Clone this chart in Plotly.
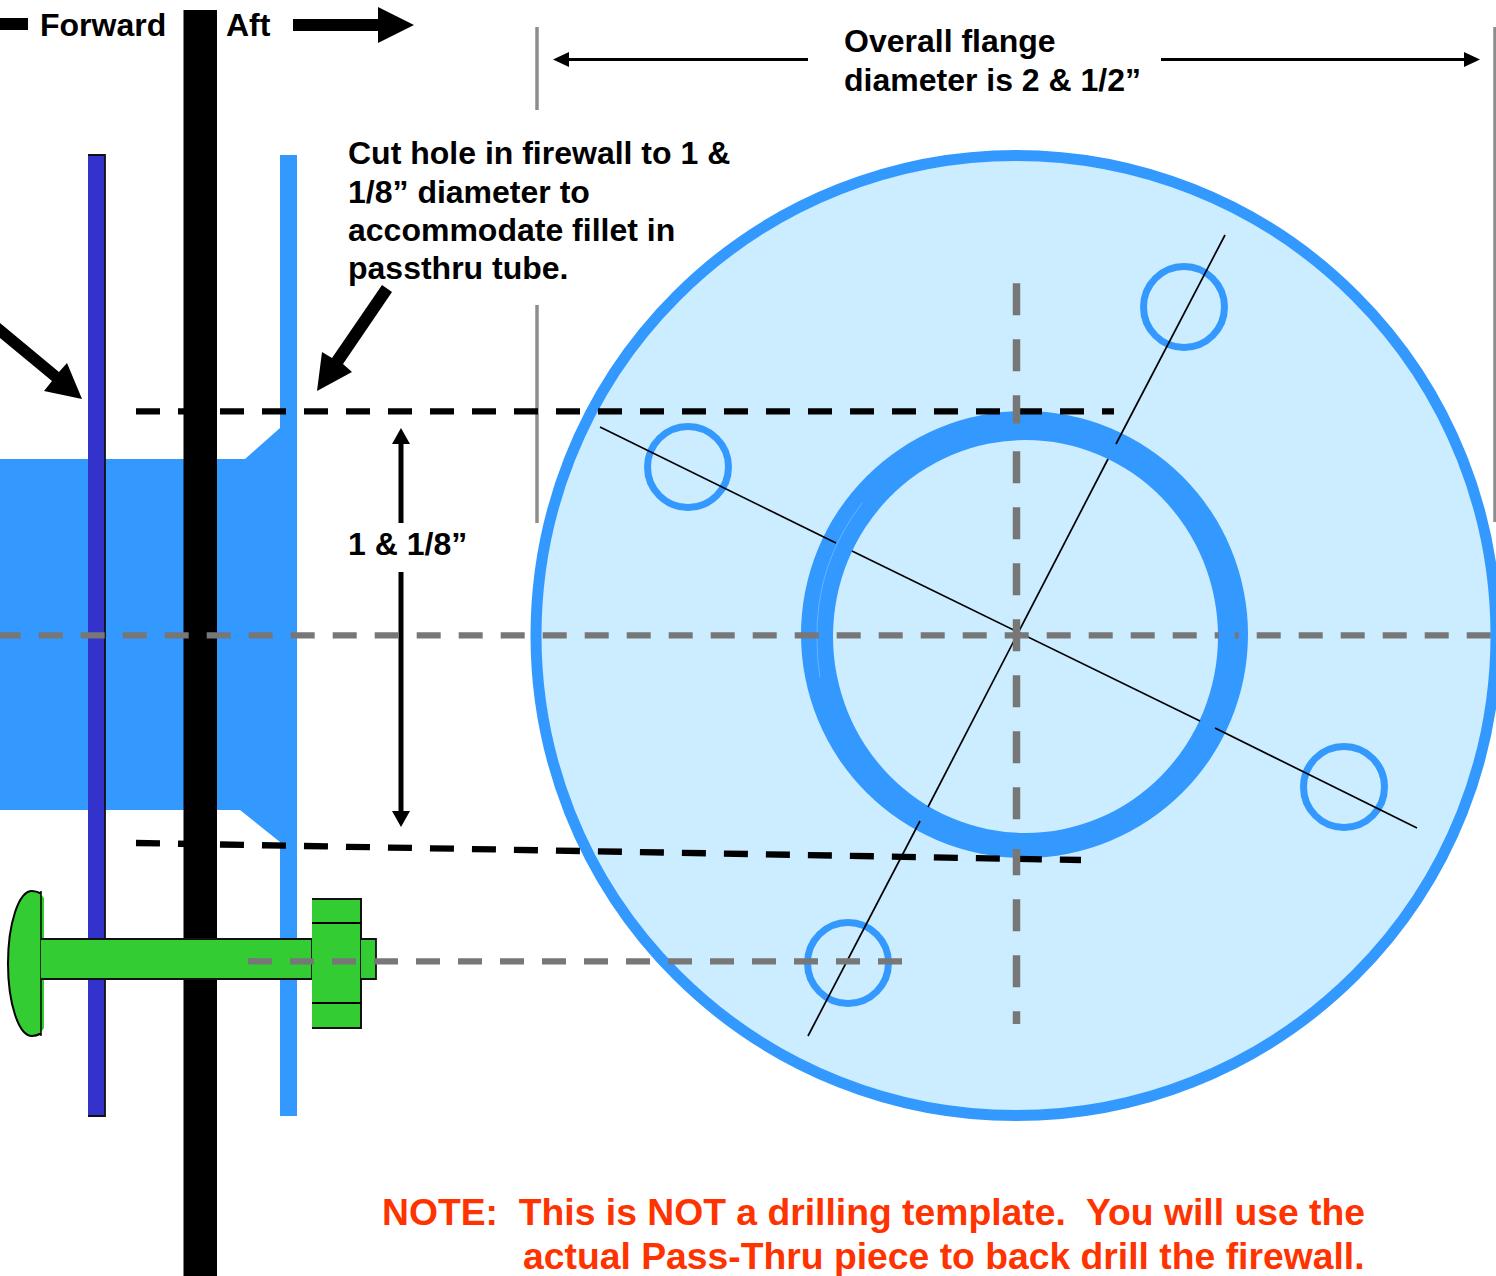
import plotly.graph_objects as go

# ---- palette ----
FLANGE_BLUE = "#3399FF"
PALE_BLUE = "#CCECFF"
DARK_BLUE = "#3333CC"
GREEN = "#33CC33"
GRAY = "#777777"
EDGE_GRAY = "#8C8C8C"
ORANGE = "#FF3300"

# ---- circles: bounding boxes (x0, x1, y0, y1) and centres ----
flange_box = (536, 1496, 155.5, 1115.5)
ring_outer_box = (801, 1248, 411, 858)
ring_inner_box = (833, 1218, 440, 833)
bolt_holes = [(688, 467), (1184, 307), (1344, 787), (848, 963)]
bolt_hole_radius = 40.5

# ---- filled polygons ----
tube_x = [0, 245, 280, 280, 297, 297, 280, 280, 240, 0]
tube_y = [459, 459, 428, 155, 155, 1116, 1116, 842, 810, 810]
plate_x = [88, 105, 105, 88]
plate_y = [155, 155, 1116, 1116]
firewall_x = [183.5, 217, 217, 183.5]
firewall_y = [10, 10, 1276, 1276]
shaft_x = [41, 312, 312, 41]
shaft_y = [939, 939, 979, 979]
tip_x = [361, 376, 376, 361]
tip_y = [939, 939, 979, 979]
nut_x = [312, 361, 361, 312]
nut_y = [899, 899, 1028, 1028]
nut_line_y = [923, 1003]

forward_bar_x = [0, 28, 28, 0]
forward_bar_y = [18, 18, 30, 30]
aft_arrow_x = [293, 378, 378, 414, 378, 378, 293]
aft_arrow_y = [19, 19, 7, 25, 43, 31, 31]
left_arrow_x = [0, 59, 67, 82, 44, 52, 0]
left_arrow_y = [323, 372, 363, 399, 391, 381, 338]
right_arrow_x = [382, 392, 343, 352, 317, 322, 332]
right_arrow_y = [285, 292, 364, 372, 391, 352, 358]
up_arrow_x = [401, 410, 403.5, 403.5, 398.5, 398.5, 392]
up_arrow_y = [428, 444, 444, 523, 523, 444, 444]
down_arrow_x = [398.5, 403.5, 403.5, 410, 401, 392, 398.5]
down_arrow_y = [572, 572, 811, 811, 827, 811, 811]
dim_left_x = [553, 569, 569, 808, 808, 569, 569]
dim_left_y = [59.5, 52, 58, 58, 61, 61, 67]
dim_right_x = [1161, 1464, 1464, 1480, 1464, 1464, 1161]
dim_right_y = [58, 58, 52, 59.5, 67, 61, 61]

# ---- thin and dashed lines: segments ----
gray_edges = [([537, 537], [27, 110]), ([537, 537], [305, 523]), ([1495, 1495], [27, 522])]
spoke_a = [([600, 836], [427, 543]), ([852, 1200], [551, 721]), ([1215, 1417], [728, 828])]
spoke_b = [([1225, 1116], [235, 444]), ([1108, 928], [459, 807]), ([920, 808], [821, 1036])]
center_h_x, center_h_y = [-3.3, 1492], [635.3, 635.3]
center_v_x, center_v_y = [1016.5, 1016.5], [283.3, 1024]
bolt_h_x, bolt_h_y = [248, 904], [961.3, 961.3]
top_dash_x, top_dash_y = [136, 1114], [411.3, 411.3]
low_dash_x, low_dash_y = [136, 1081], [843, 860]
# places where the ring sits over a grey dash
ring_over_dash = [([1219, 1235], [635.3, 635.3]), ([1016.5, 1016.5], [423.5, 428]), ([1016.5, 1016.5], [842, 849])]

# ---- labels: (text, x, y) ----
left_labels = [
    ("Forward", 39.5, 25), ("Aft", 226, 25),
    ("Overall flange", 844, 41), ("diameter is 2 &amp; 1/2”", 844, 80),
    ("Cut hole in firewall to 1 &amp;", 348, 153), ("1/8” diameter to", 348, 192),
    ("accommodate fillet in", 348, 230), ("passthru tube.", 348, 268),
    ("1 &amp; 1/8”", 348, 544),
]
note_labels = [
    ("NOTE:  This is NOT a drilling template.  You will use the", 1365, 1212),
    ("actual Pass-Thru piece to back drill the firewall.", 1365, 1256),
]


def poly(xs, ys, fill, outline=None, width=0):
    return go.Scatter(x=xs, y=ys, mode="lines", fill="toself", fillcolor=fill,
                      line=dict(color=outline or fill, width=width),
                      hoverinfo="skip", showlegend=False)


def stroke(xs, ys, color="#000000", width=2, dash="solid"):
    return go.Scatter(x=xs, y=ys, mode="lines", line=dict(color=color, width=width, dash=dash),
                      hoverinfo="skip", showlegend=False)


def oval(box, fill=None, line=None, width=0):
    return dict(type="circle", xref="x", yref="y", layer="below",
                x0=box[0], x1=box[1], y0=box[2], y1=box[3],
                fillcolor=fill or "rgba(0,0,0,0)",
                line=dict(color=line or "rgba(0,0,0,0)", width=width))


fig = go.Figure()

shapes = []
for xs, ys in gray_edges:
    shapes.append(dict(type="line", xref="x", yref="y", layer="below", x0=xs[0], x1=xs[1], y0=ys[0], y1=ys[1],
                       line=dict(color=EDGE_GRAY, width=3.5)))
shapes.append(oval(flange_box, fill=PALE_BLUE, line=FLANGE_BLUE, width=11))
shapes.append(oval(ring_outer_box, fill=FLANGE_BLUE))
shapes.append(oval(ring_inner_box, fill=PALE_BLUE))
shapes.append(dict(type="path", xref="x", yref="y", layer="below", path="M 862 503 Q 815 565 817 640 Q 817 660 820 677",
                   line=dict(color="#66B3FF", width=1)))
for cx, cy in bolt_holes:
    shapes.append(oval((cx - bolt_hole_radius, cx + bolt_hole_radius, cy - bolt_hole_radius, cy + bolt_hole_radius),
                       line=FLANGE_BLUE, width=7))
head_outline = "M 41 893.5 C 38 892 35 891 32 891 C 18.7 891 8 923.5 8 963.5 C 8 1003.5 18.7 1036 32 1036 C 35 1036 38 1035 41 1033.5"
shapes.append(dict(type="path", xref="x", yref="y", layer="below",
                   path="M 44 898 C 41 893.5 36 891 32 891 C 18.7 891 8 923.5 8 963.5 C 8 1003.5 18.7 1036 32 1036 C 36 1036 41 1033 44 1028 Z",
                   fillcolor=GREEN, line=dict(width=0)))
shapes.append(dict(type="path", xref="x", yref="y", layer="below", path=head_outline,
                   line=dict(color="#000000", width=2)))
shapes.append(dict(type="line", xref="x", yref="y", layer="below", x0=41, x1=41, y0=891, y1=1036,
                   line=dict(color="#000000", width=1.5)))

for xs, ys in spoke_a + spoke_b:
    fig.add_trace(stroke(xs, ys, width=1.7))

fig.add_trace(poly(tube_x, tube_y, FLANGE_BLUE))
fig.add_trace(poly(plate_x, plate_y, DARK_BLUE, "#111111", 1.8))
fig.add_trace(stroke(top_dash_x, top_dash_y, width=6.3, dash="24px,18px"))
fig.add_trace(stroke(low_dash_x, low_dash_y, width=6.3, dash="24px,18px"))
fig.add_trace(poly(firewall_x, firewall_y, "#000000"))
fig.add_trace(poly(shaft_x, shaft_y, GREEN, "#111111", 1.8))
fig.add_trace(poly(nut_x, nut_y, GREEN, "#111111", 2))
for y in nut_line_y:
    fig.add_trace(stroke(nut_x[:2], [y, y], width=1.8))
fig.add_trace(poly(tip_x, tip_y, GREEN, "#111111", 1.8))

for ax, ay in [(forward_bar_x, forward_bar_y), (aft_arrow_x, aft_arrow_y), (left_arrow_x, left_arrow_y),
               (right_arrow_x, right_arrow_y), (up_arrow_x, up_arrow_y), (down_arrow_x, down_arrow_y),
               (dim_left_x, dim_left_y), (dim_right_x, dim_right_y)]:
    fig.add_trace(poly(ax, ay, "#000000"))

fig.add_trace(stroke(center_h_x, center_h_y, color=GRAY, width=6.3, dash="24px,18px"))
fig.add_trace(stroke(center_v_x, center_v_y, color=GRAY, width=7.5, dash="32px,24px"))
fig.add_trace(stroke(bolt_h_x, bolt_h_y, color=GRAY, width=6.3, dash="24px,18px"))
for xs, ys in ring_over_dash:
    fig.add_trace(stroke(xs, ys, color=FLANGE_BLUE, width=8))

annotations = []
for text, x, y in left_labels:
    annotations.append(dict(text=f"<b>{text}</b>", x=x, y=y, xref="x", yref="y", xanchor="left", yanchor="middle",
                            showarrow=False, xshift=-2, font=dict(family="Liberation Sans", size=32, color="#000000")))
for text, x, y in note_labels:
    annotations.append(dict(text=f"<b>{text}</b>", x=x, y=y, xref="x", yref="y", xanchor="right", yanchor="middle",
                            showarrow=False, xshift=2, font=dict(family="Liberation Sans", size=37.3, color=ORANGE)))

fig.update_layout(
    width=1496, height=1276, autosize=False,
    margin=dict(l=0, r=0, t=0, b=0, pad=0),
    paper_bgcolor="#FFFFFF", plot_bgcolor="#FFFFFF",
    showlegend=False, shapes=shapes, annotations=annotations,
    xaxis=dict(range=[0, 1496], visible=False, fixedrange=True),
    yaxis=dict(range=[1276, 0], visible=False, fixedrange=True),
)
fig.write_html("out.html", config=dict(displayModeBar=False),
               post_script="document.documentElement.style.margin='0';document.body.style.margin='0';document.body.style.overflow='hidden';")
